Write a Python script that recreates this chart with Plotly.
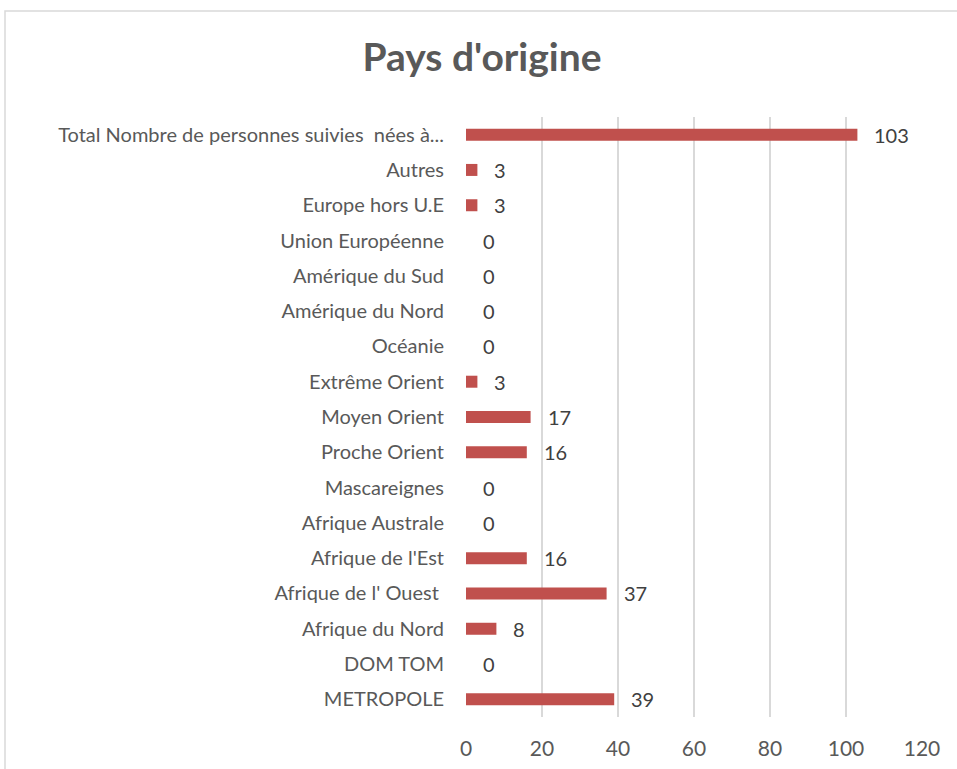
import plotly.graph_objects as go

categories = [
    "METROPOLE", "DOM TOM", "Afrique du Nord", "Afrique de l' Ouest ",
    "Afrique de l'Est", "Afrique Australe", "Mascareignes", "Proche Orient",
    "Moyen Orient", "Extrême Orient", "Océanie", "Amérique du Nord",
    "Amérique du Sud", "Union Européenne", "Europe hors U.E", "Autres",
    "Total Nombre de personnes suivies  nées à...",
]
values = [39, 0, 8, 37, 16, 0, 0, 16, 17, 3, 0, 0, 0, 0, 3, 3, 103]
x_ticks = [0, 20, 40, 60, 80, 100, 120]

FONT = "Lato"
BAR = "#C0504D"

fig = go.Figure()
fig.add_trace(go.Bar(
    y=list(range(len(categories))), x=values, orientation="h",
    marker=dict(color=BAR, line=dict(width=0)), width=0.34,
    hoverinfo="x+y",
))

for i, v in enumerate(values):
    fig.add_annotation(x=v, y=i, text=str(v), showarrow=False,
                       xanchor="left", xshift=15, yshift=0,
                       font=dict(family=FONT, size=20, color="#404040"))

W, H = 957, 769
L, R, T, B = 466, 35, 117, 52
pw, ph = W - L - R, H - T - B
fig.add_shape(type="rect", xref="paper", yref="paper",
              x0=(5 - L) / pw, x1=(W + 20 - L) / pw,
              y0=-0.5, y1=1 + (T - 11) / ph,
              line=dict(color="#D9D9D9", width=1.5), layer="below")

fig.update_layout(
    width=W, height=H,
    margin=dict(l=L, r=R, t=T, b=B),
    paper_bgcolor="white", plot_bgcolor="white",
    title=dict(text="<b>Pays d'origine</b>", x=482 / W, xanchor="center",
               y=1 - 57 / H, yanchor="middle",
               font=dict(family=FONT, size=39, color="#595959")),
    showlegend=False,
    xaxis=dict(range=[0, 120], tickvals=x_ticks, showgrid=True,
               gridcolor="#D9D9D9", gridwidth=1.5, zeroline=False,
               showline=False, ticks="", ticklabelstandoff=17,
               automargin=False,
               tickfont=dict(family=FONT, size=21, color="#595959")),
    yaxis=dict(tickvals=list(range(len(categories))), ticktext=categories,
               range=[-0.5, len(categories) - 0.5], showgrid=False,
               zeroline=False, showline=False, ticks="",
               ticklabelstandoff=21, automargin=False,
               tickfont=dict(family=FONT, size=20, color="#595959")),
)

fig.write_html("out.html", config={"displayModeBar": False},
               post_script="document.body.style.margin='0';document.body.style.overflow='hidden';")
